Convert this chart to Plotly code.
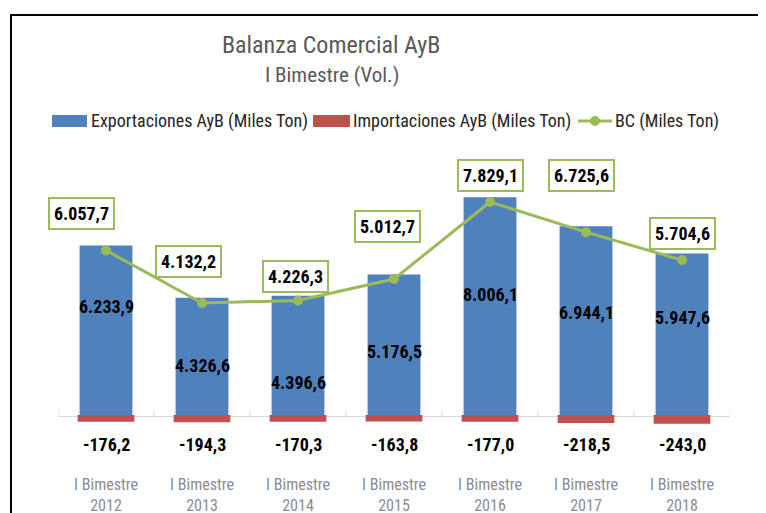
import plotly.graph_objects as go

categories = ["I Bimestre<br>2012", "I Bimestre<br>2013", "I Bimestre<br>2014", "I Bimestre<br>2015",
              "I Bimestre<br>2016", "I Bimestre<br>2017", "I Bimestre<br>2018"]
exportaciones = [6233.9, 4326.6, 4396.6, 5176.5, 8006.1, 6944.1, 5947.6]
importaciones = [-176.2, -194.3, -170.3, -163.8, -177.0, -218.5, -243.0]
bc = [6057.7, 4132.2, 4226.3, 5012.7, 7829.1, 6725.6, 5704.6]

# label placement offsets (pixels) - style only
bc_dx = [-25, -14, -3, -7, 0, -5, 0]
bc_dy = [37, 42, 24, 52, 27, 57, 27]
exp_dy = [24, -9, -27, -6, 12, 9, 17]

BLUE = "#4F81BD"
RED = "#C0504D"
GREEN = "#9BBB59"
FONT = "Liberation Sans Narrow, Arial Narrow, Roboto Condensed, sans-serif"

OFF = 8  # page body margin
W, H = 766 - OFF, 513 - OFF
L, R, T, B = 58 - OFF, 36, 170 - OFF, 56


def px(x):
    return (x - OFF - L) / (W - L - R)


def py(y):
    return (H - B - (y - OFF)) / (H - T - B)


def fmt(v):
    s = f"{abs(v):,.1f}".replace(",", "X").replace(".", ",").replace("X", ".")
    return ("-" if v < 0 else "") + s


fig = go.Figure()
fig.add_trace(go.Bar(x=categories, y=exportaciones, name="Exportaciones AyB (Miles Ton)",
                     marker=dict(color=BLUE, line=dict(width=0)), width=0.55))
fig.add_trace(go.Bar(x=categories, y=importaciones, name="Importaciones AyB (Miles Ton)",
                     marker=dict(color=RED, line=dict(color=RED, width=2)), width=0.57))
fig.add_trace(go.Scatter(x=categories, y=bc, name="BC (Miles Ton)", mode="lines+markers",
                         line=dict(color=GREEN, width=3), marker=dict(color=GREEN, size=10),
                         cliponaxis=False))

ann = []
for i, c in enumerate(categories):
    ann.append(dict(x=c, y=bc[i], xref="x", yref="y", text=fmt(bc[i]), showarrow=False,
                    xshift=bc_dx[i], yshift=bc_dy[i], bordercolor=GREEN, borderwidth=2,
                    borderpad=4, bgcolor="white",
                    font=dict(family=FONT, size=18, color="#000000", weight="bold")))
    ann.append(dict(x=c, y=exportaciones[i] / 2, xref="x", yref="y", text=fmt(exportaciones[i]),
                    showarrow=False, yshift=exp_dy[i],
                    font=dict(family=FONT, size=18, color="#000000", weight="bold")))
    ann.append(dict(x=c, y=0, xref="x", yref="y", text=fmt(importaciones[i]), showarrow=False,
                    yshift=-28, yanchor="middle",
                    font=dict(family=FONT, size=18, color="#000000", weight="bold")))

# titles
ann.append(dict(x=px(331), y=py(45), xref="paper", yref="paper", text="Balanza Comercial AyB",
                showarrow=False, xanchor="center", yanchor="middle",
                font=dict(family=FONT, size=24, color="#595959")))
ann.append(dict(x=px(332), y=py(75), xref="paper", yref="paper", text="I Bimestre (Vol.)",
                showarrow=False, xanchor="center", yanchor="middle",
                font=dict(family=FONT, size=21, color="#595959")))

# manual legend
shapes = []
legend_items = [("Exportaciones AyB (Miles Ton)", BLUE, 52, 87, 89),
                ("Importaciones AyB (Miles Ton)", RED, 313, 350, 351)]
for txt, col, x0, x1, tx in legend_items:
    shapes.append(dict(type="rect", xref="paper", yref="paper", x0=px(x0), x1=px(x1),
                       y0=py(127), y1=py(115), fillcolor=col, line=dict(width=0)))
    ann.append(dict(x=px(tx), y=py(121), xref="paper", yref="paper", text=txt, showarrow=False,
                    xanchor="left", yanchor="middle",
                    font=dict(family=FONT, size=18, color="#262626")))
shapes.append(dict(type="line", xref="paper", yref="paper", x0=px(578), x1=px(612),
                   y0=py(121), y1=py(121), line=dict(color=GREEN, width=3)))
shapes.append(dict(type="circle", xref="paper", yref="paper", xsizemode="pixel", ysizemode="pixel",
                   xanchor=px(595), yanchor=py(121), x0=-5, x1=5, y0=-5, y1=5,
                   fillcolor=GREEN, line=dict(width=0)))
ann.append(dict(x=px(613), y=py(121), xref="paper", yref="paper", text="BC (Miles Ton)",
                showarrow=False, xanchor="left", yanchor="middle",
                font=dict(family=FONT, size=18, color="#262626")))

# frame
shapes.append(dict(type="line", xref="paper", yref="paper", x0=px(11), x1=px(11),
                   y0=py(14), y1=py(520), line=dict(color="black", width=2)))
shapes.append(dict(type="line", xref="paper", yref="paper", x0=px(10), x1=px(770),
                   y0=py(15), y1=py(15), line=dict(color="black", width=2)))

# boundary ticks on zero axis
for i in range(len(categories) + 1):
    shapes.append(dict(type="line", xref="x", yref="y", x0=i - 0.5, x1=i - 0.5,
                       ysizemode="pixel", yanchor=0, y0=0, y1=6,
                       line=dict(color="#d9d9d9", width=1), layer="below"))

fig.update_layout(
    width=W, height=H,
    margin=dict(l=L, r=R, t=T, b=B, autoexpand=False),
    paper_bgcolor="white", plot_bgcolor="white",
    barmode="relative", bargap=0.4,
    showlegend=False,
    annotations=ann, shapes=shapes,
    font=dict(family=FONT),
    xaxis=dict(showgrid=False, showline=False, ticks="", automargin=False,
               tickfont=dict(family=FONT, size=16, color="#8c8c8c"),
               ticklabelstandoff=16, range=[-0.5, 6.5]),
    yaxis=dict(range=[-1500, 9000], showgrid=False, showticklabels=False, zeroline=True,
               automargin=False, zerolinecolor="#d9d9d9", zerolinewidth=1, showline=False, ticks=""),
)

fig.write_html("out.html")
